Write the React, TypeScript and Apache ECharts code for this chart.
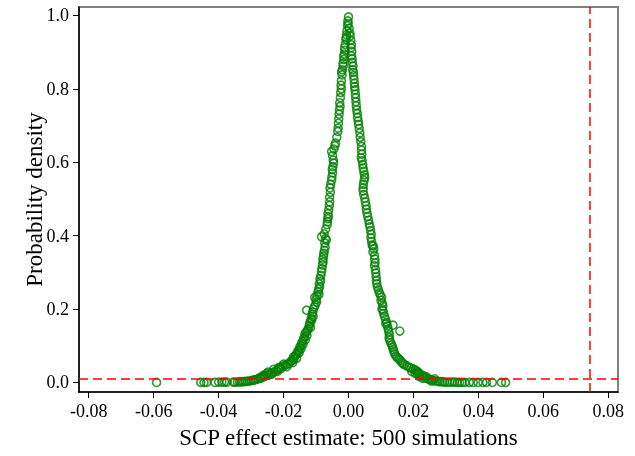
import React, { useEffect, useRef } from "react";
import * as echarts from "echarts";

// Simulated SCP effect estimates [estimate, probability density]
const leftTail: number[][] = [
  [-0.0591, 0.0], [-0.0455, 0.0], [-0.0445, 0.0], [-0.0437, 0.0], [-0.0411, 0.0],
  [-0.04, 0.001], [-0.039, 0.001], [-0.0382, 0.001], [-0.0375, 0.001], [-0.0355, 0.001],
  [-0.035, 0.001], [-0.0342, 0.001], [-0.0336, 0.002], [-0.033, 0.002], [-0.0324, 0.002],
  [-0.0318, 0.003], [-0.0312, 0.003], [-0.0306, 0.004], [-0.03, 0.005], [-0.0294, 0.006],
  [-0.029, 0.007], [-0.0285, 0.008], [-0.0279, 0.01], [-0.027, 0.011], [-0.0273, 0.013],
  [-0.0266, 0.015], [-0.026, 0.016], [-0.0255, 0.018], [-0.0262, 0.02], [-0.0252, 0.024],
  [-0.0246, 0.021], [-0.0237, 0.022], [-0.024, 0.025], [-0.0234, 0.027], [-0.0248, 0.028],
  [-0.0228, 0.029], [-0.0219, 0.03], [-0.0222, 0.033], [-0.0216, 0.036], [-0.023, 0.036],
  [-0.0208, 0.038], [-0.0215, 0.04], [-0.0211, 0.042], [-0.0202, 0.044], [-0.019, 0.043],
  [-0.0195, 0.047], [-0.02, 0.05],
];

const leftLower: number[][] = [
  [-0.0188, 0.05], [-0.0183, 0.052], [-0.0172, 0.054], [-0.0178, 0.057], [-0.0174, 0.06],
  [-0.0168, 0.063], [-0.016, 0.066], [-0.017, 0.069], [-0.0165, 0.072], [-0.0162, 0.075],
  [-0.0159, 0.078], [-0.0152, 0.081], [-0.0156, 0.085], [-0.0153, 0.088], [-0.0146, 0.092],
  [-0.015, 0.096], [-0.0147, 0.1], [-0.014, 0.104], [-0.0144, 0.108], [-0.0141, 0.112],
  [-0.0133, 0.116], [-0.0138, 0.12], [-0.0135, 0.124], [-0.0128, 0.128], [-0.0134, 0.133],
  [-0.013, 0.137], [-0.0127, 0.141], [-0.0124, 0.146], [-0.0117, 0.15], [-0.0121, 0.154],
  [-0.0119, 0.16], [-0.0118, 0.165], [-0.0113, 0.17], [-0.0115, 0.175], [-0.0109, 0.18],
  [-0.0112, 0.186], [-0.011, 0.192], [-0.0129, 0.197], [-0.0108, 0.2], [-0.0105, 0.206],
  [-0.0102, 0.212], [-0.0098, 0.219], [-0.01, 0.226], [-0.0104, 0.232], [-0.0097, 0.236],
  [-0.0091, 0.24], [-0.0094, 0.247], [-0.0092, 0.254], [-0.0089, 0.26], [-0.009, 0.268],
  [-0.0086, 0.276], [-0.0088, 0.282], [-0.0085, 0.292],
];

const leftMiddle: number[][] = [
  [-0.0083, 0.302], [-0.0082, 0.31], [-0.008, 0.32], [-0.0078, 0.328], [-0.0079, 0.336],
  [-0.0077, 0.344], [-0.0076, 0.352], [-0.0074, 0.36], [-0.0072, 0.369], [-0.0073, 0.38],
  [-0.0068, 0.388], [-0.0071, 0.392], [-0.0083, 0.397], [-0.0075, 0.405], [-0.007, 0.418],
  [-0.0066, 0.43], [-0.0065, 0.438], [-0.0064, 0.446], [-0.0062, 0.452], [-0.0063, 0.46],
  [-0.0061, 0.47], [-0.0059, 0.482], [-0.0058, 0.492], [-0.0058, 0.505], [-0.0056, 0.518],
  [-0.0057, 0.53], [-0.0055, 0.54], [-0.0052, 0.551], [-0.0051, 0.56], [-0.0049, 0.571],
  [-0.005, 0.58], [-0.0048, 0.588], [-0.0046, 0.598], [-0.0047, 0.606], [-0.0049, 0.618],
  [-0.0052, 0.629], [-0.0045, 0.636],
];

const leftUpper: number[][] = [
  [-0.0042, 0.645], [-0.004, 0.652], [-0.0036, 0.668], [-0.0033, 0.684], [-0.0032, 0.693],
  [-0.0031, 0.706], [-0.003, 0.718], [-0.0029, 0.731], [-0.0028, 0.742], [-0.0026, 0.752],
  [-0.0027, 0.762], [-0.0025, 0.776], [-0.0024, 0.79], [-0.0022, 0.8], [-0.0023, 0.81],
  [-0.0022, 0.822], [-0.002, 0.838], [-0.0021, 0.846], [-0.0019, 0.852], [-0.0016, 0.862],
  [-0.0017, 0.87], [-0.0014, 0.88], [-0.0015, 0.888], [-0.0013, 0.895], [-0.0011, 0.905],
  [-0.0012, 0.912], [-0.001, 0.921], [-0.0007, 0.94], [-0.0008, 0.935], [-0.0006, 0.947],
  [-0.0005, 0.958], [-0.0003, 0.972], [-0.0001, 0.978], [-0.0002, 0.985], [0.0, 0.996],
];

const rightUpper: number[][] = [
  [0.0002, 0.965], [0.0004, 0.952], [0.0005, 0.944], [0.0007, 0.932], [0.0009, 0.92],
  [0.0008, 0.912], [0.001, 0.902], [0.0009, 0.89], [0.0011, 0.882], [0.0012, 0.872],
  [0.0014, 0.862], [0.0013, 0.852], [0.0015, 0.845], [0.0016, 0.836], [0.0017, 0.826],
  [0.0018, 0.815], [0.0019, 0.806], [0.002, 0.797], [0.0021, 0.786], [0.0022, 0.776],
  [0.0023, 0.765], [0.0024, 0.754], [0.0025, 0.743], [0.0027, 0.733], [0.0028, 0.722],
  [0.003, 0.712], [0.0031, 0.703], [0.0033, 0.692], [0.0035, 0.68], [0.0036, 0.668],
  [0.0038, 0.656], [0.004, 0.643],
];

const rightMiddle: number[][] = [
  [0.004, 0.633], [0.0041, 0.622], [0.0039, 0.612], [0.0042, 0.604], [0.0044, 0.594],
  [0.0045, 0.584], [0.0047, 0.575], [0.0049, 0.566], [0.005, 0.558], [0.0048, 0.55],
  [0.0046, 0.54], [0.0045, 0.53], [0.0045, 0.522], [0.0047, 0.512], [0.005, 0.502],
  [0.0052, 0.492], [0.0054, 0.482], [0.0055, 0.472], [0.0057, 0.462], [0.0059, 0.452],
  [0.0062, 0.442], [0.0064, 0.432], [0.0066, 0.424], [0.0068, 0.414], [0.007, 0.404],
  [0.0069, 0.394], [0.0071, 0.384], [0.0073, 0.374], [0.0076, 0.372], [0.0078, 0.364],
  [0.0075, 0.356], [0.008, 0.346], [0.0081, 0.336], [0.0082, 0.326], [0.008, 0.318],
  [0.0083, 0.308],
];

const rightLower: number[][] = [
  [0.0084, 0.298], [0.0085, 0.288], [0.0086, 0.278], [0.0087, 0.269], [0.0089, 0.26],
  [0.0092, 0.252], [0.0095, 0.244], [0.0098, 0.238], [0.0102, 0.232], [0.01, 0.224],
  [0.0104, 0.216], [0.0106, 0.208], [0.0103, 0.2], [0.0106, 0.196], [0.0108, 0.188],
  [0.0111, 0.18], [0.0114, 0.172], [0.0117, 0.164], [0.0115, 0.16], [0.012, 0.154],
  [0.0137, 0.156], [0.0158, 0.14], [0.0122, 0.146], [0.0124, 0.138], [0.0126, 0.13],
  [0.0125, 0.122], [0.0127, 0.115], [0.013, 0.108], [0.0133, 0.102], [0.0136, 0.096],
  [0.0138, 0.09], [0.014, 0.084], [0.0142, 0.078], [0.0146, 0.072], [0.015, 0.068],
  [0.0155, 0.064], [0.016, 0.06], [0.0164, 0.055], [0.0168, 0.051], [0.0173, 0.048],
  [0.018, 0.045], [0.0186, 0.042],
];

const rightTail: number[][] = [
  [0.0192, 0.039], [0.0199, 0.037], [0.0205, 0.034], [0.021, 0.031], [0.0195, 0.03],
  [0.0215, 0.028], [0.0205, 0.025], [0.0212, 0.024], [0.022, 0.022], [0.0226, 0.02],
  [0.0232, 0.018], [0.0218, 0.016], [0.024, 0.015], [0.0236, 0.012], [0.0228, 0.012],
  [0.0245, 0.01], [0.0265, 0.01], [0.025, 0.008], [0.0256, 0.007], [0.0262, 0.005],
  [0.027, 0.004], [0.0255, 0.004], [0.0276, 0.003], [0.0282, 0.002], [0.029, 0.002],
  [0.0296, 0.001], [0.0304, 0.001], [0.0312, 0.001], [0.032, 0.001], [0.0327, 0.001],
  [0.0335, 0.0], [0.0342, 0.0], [0.035, 0.0], [0.0358, 0.0], [0.0372, 0.0],
  [0.0384, 0.0], [0.0399, 0.0], [0.0414, 0.0], [0.0425, 0.0], [0.0443, 0.0],
  [0.0471, 0.0], [0.0484, 0.0],
];

const xTicks = [-0.08, -0.06, -0.04, -0.02, 0.0, 0.02, 0.04, 0.06, 0.08];
const yTicks = [0.0, 0.2, 0.4, 0.6, 0.8, 1.0];
const xRange = [-0.083, 0.083];
const yRange = [-0.026, 1.023];
const refLineX = 0.0742;
const refLineY = 0.009;

const FONT = "Liberation Serif";

export default function App() {
  const ref = useRef<HTMLDivElement>(null);
  useEffect(() => {
    if (!ref.current) return;
    const chart = echarts.init(ref.current, undefined, { renderer: "svg" });
    const points = [
      ...leftTail, ...leftLower, ...leftMiddle, ...leftUpper,
      ...rightUpper, ...rightMiddle, ...rightLower, ...rightTail,
    ];
    const red = { color: "#ff0000", width: 1.5, type: [9, 5] };
    chart.setOption({
      animation: false,
      grid: {
        left: 79, right: 17, top: 7, bottom: 64,
        show: true, borderColor: "#808080", borderWidth: 2,
      },
      xAxis: {
        type: "value",
        min: xRange[0], max: xRange[1],
        name: "SCP effect estimate: 500 simulations",
        nameLocation: "middle",
        nameGap: 34,
        nameMoveOverlap: false,
        nameTextStyle: { fontFamily: FONT, fontSize: 23, color: "#000" },
        axisLine: { onZero: false, lineStyle: { color: "#000", width: 1.5 } },
        axisTick: { customValues: xTicks, length: 6, lineStyle: { color: "#000", width: 1 } },
        axisLabel: {
          customValues: xTicks,
          formatter: (v: number) => v.toFixed(2),
          fontFamily: FONT, fontSize: 18, color: "#000", margin: 10,
        },
        splitLine: { show: false },
      },
      yAxis: {
        type: "value",
        min: yRange[0], max: yRange[1],
        name: "Probability density",
        nameLocation: "middle",
        nameGap: 33,
        nameMoveOverlap: false,
        nameTextStyle: { fontFamily: FONT, fontSize: 23, color: "#000" },
        axisLine: { onZero: false, lineStyle: { color: "#000", width: 1.5 } },
        axisTick: { customValues: yTicks, length: 6, lineStyle: { color: "#000", width: 1 } },
        axisLabel: {
          customValues: yTicks,
          formatter: (v: number) => v.toFixed(1),
          fontFamily: FONT, fontSize: 18, color: "#000", margin: 10,
        },
        splitLine: { show: false },
      },
      series: [
        {
          type: "scatter",
          data: points,
          symbol: "circle",
          symbolSize: 8,
          itemStyle: { color: "transparent", borderColor: "#008000", borderWidth: 1.6 },
          markLine: {
            symbol: "none",
            precision: 6,
            label: { show: false },
            lineStyle: red,
            data: [
              [{ coord: [refLineX, yRange[0]], lineStyle: red }, { coord: [refLineX, yRange[1]] }],
              [{ coord: [xRange[0], refLineY], lineStyle: red }, { coord: [xRange[1], refLineY] }],
            ],
          },
        },
      ],
    });
    return () => chart.dispose();
  }, []);
  return (
    <div
      ref={ref}
      style={{ position: "fixed", left: 0, top: 0, width: 635, height: 456 }}
    />
  );
}
